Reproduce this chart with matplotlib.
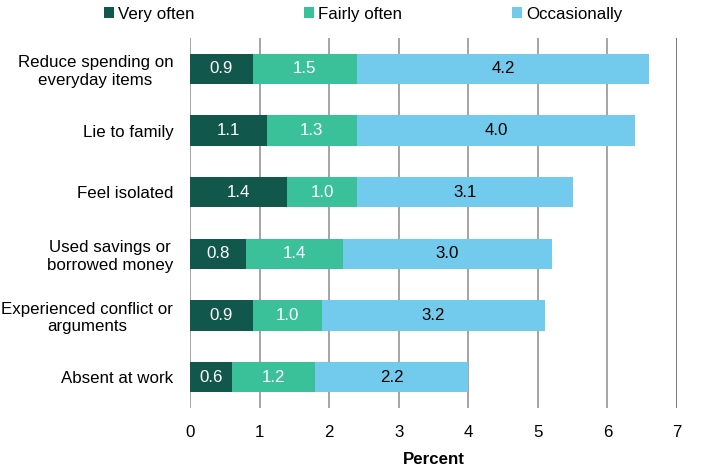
import matplotlib
matplotlib.use("Agg")
import matplotlib.pyplot as plt
from matplotlib.patches import Patch
import numpy as np

plt.rcParams['font.family'] = ['Liberation Sans', 'DejaVu Sans']

categories = ["Reduce spending on\neveryday items", "Lie to family", "Feel isolated",
              "Used savings or\nborrowed money", "Experienced conflict or\narguments", "Absent at work"]
series_names = ["Very often", "Fairly often", "Occasionally"]
very_often = [0.9, 1.1, 1.4, 0.8, 0.9, 0.6]
fairly_often = [1.5, 1.3, 1.0, 1.4, 1.0, 1.2]
occasionally = [4.2, 4.0, 3.1, 3.0, 3.2, 2.2]
xticks = [0, 1, 2, 3, 4, 5, 6, 7]

colors = ["#12574b", "#3bc19a", "#72cbec"]
text_colors = ["white", "white", "black"]
FS = 12.2

fig = plt.figure(figsize=(7.14, 4.69), dpi=100)
ax = fig.add_axes([190/714, 1-408/469, (677-190)/714, (408-38)/469])

y = np.arange(len(categories))
left = np.zeros(len(categories))
for vals, name, c, tc in zip([very_often, fairly_often, occasionally], series_names, colors, text_colors):
    vals = np.array(vals)
    ax.barh(y, vals, left=left, height=0.49, color=c, label=name, zorder=3)
    for yi, l, v in zip(y, left, vals):
        ax.text(l + v/2, yi, f"{v:.1f}", ha='center', va='center', color=tc, fontsize=FS, zorder=4)
    left = left + vals

ax.set_ylim(len(categories)-0.5, -0.5)
ax.set_xlim(0, 7)
ax.set_xticks(xticks)
ax.set_yticks(y)
ax.set_yticklabels(categories, fontsize=FS, ha='right', multialignment='center')
ax.tick_params(axis='y', length=0, pad=12)
ax.tick_params(axis='x', length=0, labelsize=FS, pad=12)
for xv in xticks:
    ax.axvline(xv, color='#555555' if xv == xticks[-1] else '#8c8c8c', linewidth=1.1, zorder=0)
for s in ax.spines.values():
    s.set_visible(False)
ax.set_xlabel("Percent", fontsize=FS, fontweight='bold', labelpad=9)

positions = [105, 305, 513]
for name, c, px in zip(series_names, colors, positions):
    fig.legend(handles=[Patch(facecolor=c, edgecolor='none')], labels=[name],
               loc='center left', bbox_to_anchor=(px/714 - 0.002, 1-14/469), frameon=False,
               fontsize=FS, handlelength=0.6, handleheight=0.6, handletextpad=0.25,
               borderpad=0, borderaxespad=0)

fig.savefig("out.png", dpi=100)
